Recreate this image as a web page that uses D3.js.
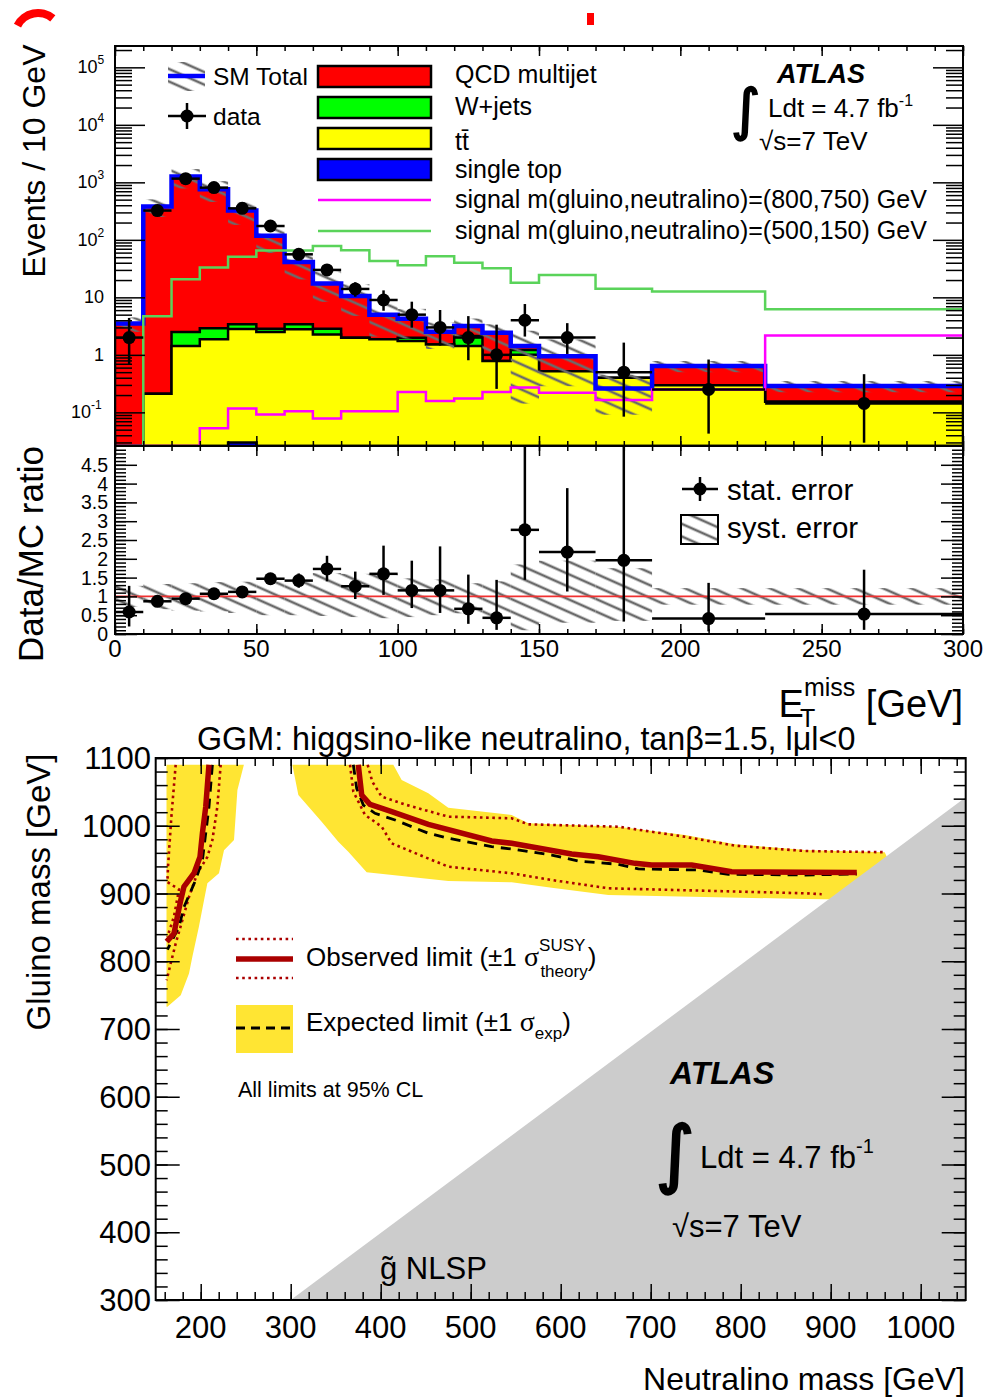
<!DOCTYPE html>
<html>
<head>
<meta charset="utf-8">
<script src="https://cdn.jsdelivr.net/npm/d3@7"></script>
<style>
body { margin: 0; background: #fff; }
svg { font-family: "Liberation Sans", Arial, Helvetica, sans-serif; }
</style>
</head>
<body>
<svg id="chart" width="1003" height="1398"></svg>
<script>
"use strict";

// ---------- top panel: E_T^miss distribution (events / 10 GeV) ----------
const binEdges  = [0,10,20,30,40,50,60,70,80,90,100,110,120,130,140,150,170,190,230,300];
const singleTop = [0,0,0,0,0.03,0,0,0,0,0,0,0,0,0,0,0,0,0,0];
const ttbar     = [0,0.21,1.42,1.86,2.78,2.49,2.78,2.27,1.99,1.86,1.74,1.52,1.42,0.78,1.0,0.52,0.40,0.295,0.153];
const wjets     = [0,0,1.08,1.03,0.61,0.36,0.61,0.58,0,0,0.25,0,0.70,0,0.21,0,0,0,0];
const qcd       = [3.5,380,1257,757,322,115,37.6,14.6,8.6,3.1,2.27,1.01,1.05,1.65,0.21,0.43,-0.14,0.345,0.134];
const sig800    = [0,0,0,0.053,0.117,0.092,0.105,0.078,0.105,0.105,0.225,0.157,0.175,0.225,0.27,0.22,0.164,0.25,2.18];
const sig500    = [0,4.7,20.6,33,51,65.6,65.6,78,66,43,36,52,40,32,18,24.4,14.1,12.6,6.2];
const dataVals  = [2,323,1160,810,353,174,56,30,14,9,5,3,2,1,4,2,0.5,0.25,0.143];
const systLo    = [0.72,0.66,0.62,0.60,0.56,0.50,0.50,0.48,0.45,0.42,0.45,0.50,0.55,0.40,0.10,0.30,0.35,0.78,0.78];
const systHi    = [1.28,1.33,1.35,1.38,1.39,1.40,1.40,1.62,1.60,1.60,1.48,1.45,1.35,1.40,1.85,1.95,1.75,1.22,1.22];

// ---------- ratio panel ----------
const ratio     = [0.585,0.87,0.94,1.07,1.12,1.47,1.42,1.73,1.27,1.60,1.16,1.16,0.67,0.43,2.77,2.18,1.96,0.41,0.53];
const ratioLo   = [0.20,0.82,0.91,1.03,1.06,1.36,1.23,1.40,0.93,1.04,0.69,0.56,0.27,0.11,1.44,1.13,0.33,0.07,0.11];
const ratioHi   = [1.28,0.92,0.97,1.11,1.18,1.58,1.61,2.08,1.66,2.35,1.95,2.33,1.58,1.44,5.3,3.88,6.4,1.36,1.71];

const logTickLabels = [[0.1,"10","-1"],[1,"1",""],[10,"10",""],[100,"10","2"],[1000,"10","3"],[1e4,"10","4"],[1e5,"10","5"]];
const ratioTickLabels = ["0","0.5","1","1.5","2","2.5","3","3.5","4","4.5"];
const xTickLabels = [0,50,100,150,200,250,300];

// ---------- bottom panel: exclusion limits [neutralino mass, gluino mass] ----------
const bandLeft    = [[162,1090],[248,1090],[240.8,1052.8],[237,979],[225.9,964],[220.3,930],[207.4,915],[203.7,890],
                     [198,851],[190.8,807],[187,782],[177.8,750],[163,733],[162,733]];
const bandRight   = [[414,1090],[423.3,1067.5],[452.9,1047.9],[475.1,1026.6],[545.5,1015.9],[564,1003.6],[664,998.6],
                     [738,986.3],[793.7,972.6],[871.4,964.2],[960,961],[985,890],[871.4,891.9],[653,897.8],[590,908.6],
                     [545.5,916.5],[475.1,918.5],[384.4,931.3],[364,961.7],[352.9,976.5],[334.4,1006],[308.5,1045.4],[301.8,1090]];
const obsLeft     = [[209.2,1090],[205.6,1028],[201.9,989],[199.2,954],[192.6,930],[181.4,910],[177.8,890],[174.1,866],[170.3,841],[162.2,829]];
const expLeft     = [[213,1090],[209.2,1028],[205.6,989],[201.9,949],[194.4,920],[181.4,880],[175.9,851],[163,817]];
const obsUpLeft   = [[172.2,1090],[167.4,1013],[163.7,940],[163,917],[175.9,906],[170.3,866],[163,836]];
const obsDownLeft = [[222.2,1090],[218.5,1028],[213,979],[207.4,954],[196.3,930],[187,895],[179.7,861],[172.2,826],[166.7,797],[162.2,772]];
const obsRight    = [[375.1,1090],[378.9,1045.4],[388.1,1031.7],[412.2,1020.8],[452.9,1002.1],[523.3,977.5],[545.5,974.1],
                     [612.2,958.3],[641.8,954.3],[682.6,944.5],[701.1,942],[745.6,942],[790,932.2],[871.4,931.3],[929,931]];
const expRight    = [[369.6,1090],[373.3,1055.3],[380.7,1030.6],[393.7,1018.4],[415.9,1008.5],[452.9,988.9],[475.1,981.5],
                     [523.3,969.1],[545.5,965.7],[590,956.8],[619.6,947.8],[664,943.1],[686.2,936.2],[752.9,934.7],
                     [786.2,928.3],[871.4,927.3],[929,928.8]];
const obsUpRight  = [[385.5,1090],[390.7,1065],[401.1,1042.9],[428.9,1030.6],[475.1,1013.4],[545.5,1011],[564,1002.1],
                     [664,998.6],[738,983.8],[793.7,970.6],[871.4,962.7],[958,961]];
const obsDownRight= [[365.9,1090],[369.6,1050.3],[382.6,1015.9],[401.1,998.6],[412.2,974.1],[434.4,961.7],[475.1,939.6],
                     [545.5,929.8],[590,919.9],[653,907.7],[871.4,900.3],[890,899]];
const nlspRegion  = [[300,300],[1050,1042],[1050,300]];
const massTicksX  = [200,300,400,500,600,700,800,900,1000];
const massTicksY  = [300,400,500,600,700,800,900,1000,1100];


const svg = d3.select('#chart');
const defs = svg.append('defs');

defs.append('pattern')
  .attr('id', 'hatch')
  .attr('patternUnits', 'userSpaceOnUse')
  .attr('width', 12).attr('height', 11.5)
  .attr('patternTransform', 'rotate(24)')
  .append('line')
  .attr('x1', 0).attr('x2', 12).attr('y1', 5.75).attr('y2', 5.75)
  .attr('stroke', '#6b6b6b').attr('stroke-width', 2.6);

function clip(id, x, y, w, h)
{
  defs.append('clipPath').attr('id', id)
    .append('rect').attr('x', x).attr('y', y).attr('width', w).attr('height', h);
  return 'url(#' + id + ')';
}

// ticks pointing into the frame, ROOT style
function ticks(axis, pos, scale, values, len)
{
  let g = svg.append('g')
    .attr('transform', axis === 'bottom' || axis === 'top' ? `translate(0,${pos})` : `translate(${pos},0)`)
    .call({bottom: d3.axisBottom, top: d3.axisTop, left: d3.axisLeft, right: d3.axisRight}[axis](scale)
      .tickValues(values).tickSize(-len).tickFormat(''));
  g.select('.domain').remove();
  g.selectAll('line').attr('stroke', '#000').attr('stroke-width', 1.5);
}

function frame(x0, y0, x1, y1)
{
  svg.append('rect')
    .attr('x', x0).attr('y', y0).attr('width', x1 - x0).attr('height', y1 - y0)
    .attr('fill', 'none').attr('stroke', '#000').attr('stroke-width', 2);
}

function txt(x, y, size, s, anchor)
{
  return svg.append('text')
    .attr('x', x).attr('y', y)
    .attr('font-size', size)
    .attr('text-anchor', anchor || 'start')
    .text(s);
}

function integral(x, y, size)
{
  return txt(x, y, size, '\u222B')
    .attr('font-family', '"DejaVu Sans", sans-serif')
    .attr('stroke', '#000').attr('stroke-width', size / 30);
}

// ================= top panel =================
const T = {l: 115, r: 963, t: 46, b: 446};
const x = d3.scaleLinear().domain([0, 300]).range([T.l, T.r]);
const yMin = 0.026;
const y = d3.scaleLog().domain([yMin, 2.35e5]).range([T.b, T.t]).clamp(true);
const yv = v => v > yMin ? y(v) : y(yMin);
const nb = qcd.length;

const cum1 = singleTop.slice();
const cum2 = cum1.map((v, i) => v + ttbar[i]);
const cum3 = cum2.map((v, i) => v + wjets[i]);
const total = cum3.map((v, i) => v + qcd[i]);

function stepArea(vals)
{
  let p = d3.path();
  p.moveTo(x(binEdges[0]), T.b);
  vals.forEach((v, i) => { p.lineTo(x(binEdges[i]), yv(v)); p.lineTo(x(binEdges[i + 1]), yv(v)); });
  p.lineTo(x(binEdges[nb]), T.b);
  p.closePath();
  return p.toString();
}

function stepLine(vals)
{
  let p = d3.path();
  vals.forEach((v, i) => {
    if (i === 0) p.moveTo(x(binEdges[0]), yv(v)); else p.lineTo(x(binEdges[i]), yv(v));
    p.lineTo(x(binEdges[i + 1]), yv(v));
  });
  return p.toString();
}

const topG = svg.append('g').attr('clip-path', clip('clipTop', T.l, T.t, T.r - T.l, T.b - T.t));

[[total, '#ff0000'], [cum3, '#00ff00'], [cum2, '#ffff00'], [cum1, '#0000ff']].forEach(([vals, col]) => {
  topG.append('path').attr('d', stepArea(vals))
    .attr('fill', col).attr('stroke', '#000').attr('stroke-width', 2.5);
});

topG.selectAll('.syst').data(total).enter().append('rect')
  .attr('x', (d, i) => x(binEdges[i]))
  .attr('width', (d, i) => x(binEdges[i + 1]) - x(binEdges[i]))
  .attr('y', (d, i) => yv(d * systHi[i]))
  .attr('height', (d, i) => yv(d * systLo[i]) - yv(d * systHi[i]))
  .attr('fill', 'url(#hatch)');

topG.append('path').attr('d', stepLine(total))
  .attr('fill', 'none').attr('stroke', '#0000ff').attr('stroke-width', 4.5);
topG.append('path').attr('d', stepLine(sig500))
  .attr('fill', 'none').attr('stroke', '#5ad35a').attr('stroke-width', 2.5);
topG.append('path').attr('d', stepLine(sig800))
  .attr('fill', 'none').attr('stroke', '#ff00ff').attr('stroke-width', 2.5);

function points(g, ys, lo, hi, yScale)
{
  ys.forEach((yc, i) => {
    let cx = x((binEdges[i] + binEdges[i + 1]) / 2);
    g.append('line').attr('x1', x(binEdges[i])).attr('x2', x(binEdges[i + 1]))
      .attr('y1', yScale(yc)).attr('y2', yScale(yc))
      .attr('stroke', '#000').attr('stroke-width', 2.5);
    g.append('line').attr('x1', cx).attr('x2', cx)
      .attr('y1', yScale(lo[i])).attr('y2', yScale(hi[i]))
      .attr('stroke', '#000').attr('stroke-width', 2.5);
    g.append('circle').attr('cx', cx).attr('cy', yScale(yc)).attr('r', 6.5).attr('fill', '#000');
  });
}

points(topG, dataVals,
  dataVals.map((d, i) => d * ratioLo[i] / ratio[i]),
  dataVals.map((d, i) => d * ratioHi[i] / ratio[i]), yv);

frame(T.l, T.t, T.r, T.b);

const xMinor = d3.range(0, 301, 10);
const xMajor = d3.range(0, 301, 50);
ticks('bottom', T.b, x, xMinor, 5);
ticks('bottom', T.b, x, xMajor, 10);
ticks('top', T.t, x, xMinor, 5);
ticks('top', T.t, x, xMajor, 10);

const logMajor = [0.1, 1, 10, 100, 1000, 1e4, 1e5];
const logMinor = [];
[0.01, 0.1, 1, 10, 100, 1000, 1e4, 1e5].forEach(d => d3.range(2, 10).forEach(k => {
  let v = d * k;
  if (v > yMin && v < 2.35e5) logMinor.push(v);
}));
ticks('left', T.l, y, logMinor, 17);
ticks('left', T.l, y, logMajor, 30);
ticks('right', T.r, y, logMinor, 17);
ticks('right', T.r, y, logMajor, 30);

logTickLabels.forEach(([v, base, sup]) => {
  svg.append('text').attr('x', sup ? 104 - sup.length * 6.5 : 104).attr('y', y(v) + 6)
    .attr('font-size', 18).attr('text-anchor', 'end').text(base);
  if (sup) {
    svg.append('text').attr('x', 104 - sup.length * 6.5).attr('y', y(v) - 3)
      .attr('font-size', 12).text(sup);
  }
});

txt(0, 0, 32, 'Events / 10 GeV', 'middle').attr('transform', 'translate(45,161) rotate(-90)');

// legend
svg.append('rect').attr('x', 168).attr('y', 62).attr('width', 37).attr('height', 29).attr('fill', 'url(#hatch)');
svg.append('line').attr('x1', 168).attr('x2', 205).attr('y1', 76).attr('y2', 76)
  .attr('stroke', '#0000ff').attr('stroke-width', 4.5);
txt(213, 85, 24.5, 'SM Total');
svg.append('line').attr('x1', 168).attr('x2', 206).attr('y1', 116).attr('y2', 116).attr('stroke', '#000').attr('stroke-width', 2.5);
svg.append('line').attr('x1', 187).attr('x2', 187).attr('y1', 103).attr('y2', 129).attr('stroke', '#000').attr('stroke-width', 2.5);
svg.append('circle').attr('cx', 187).attr('cy', 116).attr('r', 6.5).attr('fill', '#000');
txt(213, 125, 24.5, 'data');

const legBoxes = [['#ff0000', 66], ['#00ff00', 97], ['#ffff00', 128], ['#0000ff', 159]];
legBoxes.forEach(([col, yy]) => {
  svg.append('rect').attr('x', 318).attr('y', yy).attr('width', 113).attr('height', 21)
    .attr('fill', col).attr('stroke', '#000').attr('stroke-width', 2.5);
});
txt(455, 83, 25, 'QCD multijet');
txt(455, 115, 25, 'W+jets');
txt(455, 150, 25, 't\u0074\u0304');
txt(455, 178, 25, 'single top');
svg.append('line').attr('x1', 318).attr('x2', 431).attr('y1', 200).attr('y2', 200).attr('stroke', '#ff00ff').attr('stroke-width', 2.5);
svg.append('line').attr('x1', 318).attr('x2', 431).attr('y1', 231).attr('y2', 231).attr('stroke', '#5ad35a').attr('stroke-width', 2.5);
txt(455, 208, 25, 'signal m(gluino,neutralino)=(800,750) GeV');
txt(455, 239, 25, 'signal m(gluino,neutralino)=(500,150) GeV');

txt(777, 83, 27, 'ATLAS').attr('font-weight', 'bold').attr('font-style', 'italic');
integral(731, 129, 56);
let ldt1 = txt(768, 117, 26, 'Ldt = 4.7 fb');
ldt1.append('tspan').attr('font-size', 16).attr('dy', -11).text('-1');
txt(759, 150, 26, '\u221As=7 TeV');

// artefacts cut from the figure above
svg.append('path').attr('d', d3.arc().innerRadius(19).outerRadius(27).startAngle(-1.1).endAngle(0.7)())
  .attr('transform', 'translate(38,36)').attr('fill', '#ff0000');
svg.append('rect').attr('x', 587).attr('y', 13).attr('width', 7).attr('height', 12).attr('fill', '#ff0000');

// ================= ratio panel =================
const R = {l: 115, r: 963, t: 446, b: 634};
const yr = d3.scaleLinear().domain([0, 5]).range([R.b, R.t]);
const ratioG = svg.append('g').attr('clip-path', clip('clipRatio', R.l, R.t, R.r - R.l, R.b - R.t));

ratioG.selectAll('.rsyst').data(systLo).enter().append('rect')
  .attr('x', (d, i) => x(binEdges[i]))
  .attr('width', (d, i) => x(binEdges[i + 1]) - x(binEdges[i]))
  .attr('y', (d, i) => yr(systHi[i]))
  .attr('height', (d, i) => yr(d) - yr(systHi[i]))
  .attr('fill', 'url(#hatch)');
ratioG.append('line').attr('x1', R.l).attr('x2', R.r).attr('y1', yr(1)).attr('y2', yr(1))
  .attr('stroke', '#f03030').attr('stroke-width', 1.6);
points(ratioG, ratio, ratioLo, ratioHi, yr);

frame(R.l, R.t, R.r, R.b);
ticks('bottom', R.b, x, xMinor, 5);
ticks('bottom', R.b, x, xMajor, 10);
ticks('top', R.t, x, xMinor, 5);
ticks('top', R.t, x, xMajor, 10);
const rMinor = d3.range(0, 50).map(k => k / 10);
const rMajor = d3.range(0, 10).map(k => k / 2);
ticks('left', R.l, yr, rMinor, 11);
ticks('left', R.l, yr, rMajor, 22);
ticks('right', R.r, yr, rMinor, 11);
ticks('right', R.r, yr, rMajor, 22);

ratioTickLabels.forEach((s, i) => txt(108, yr(i / 2) + 7, 19.5, s, 'end'));
xTickLabels.forEach(v => txt(x(v), 657, 24, String(v), 'middle'));

txt(0, 0, 35, 'Data/MC ratio', 'middle').attr('transform', 'translate(43,554) rotate(-90)');

let et = txt(963, 717, 38, 'E', 'end');
et.append('tspan').attr('font-size', 25).attr('dy', -21).text('miss');
et.append('tspan').attr('dy', 21).text(' [GeV]');
txt(800, 727, 25, 'T');

// ratio legend
svg.append('line').attr('x1', 682).attr('x2', 718).attr('y1', 489).attr('y2', 489).attr('stroke', '#000').attr('stroke-width', 2.5);
svg.append('line').attr('x1', 700).attr('x2', 700).attr('y1', 477).attr('y2', 501).attr('stroke', '#000').attr('stroke-width', 2.5);
svg.append('circle').attr('cx', 700).attr('cy', 489).attr('r', 6.5).attr('fill', '#000');
txt(727, 500, 29.5, 'stat. error');
svg.append('rect').attr('x', 681).attr('y', 515).attr('width', 37).attr('height', 29)
  .attr('fill', 'url(#hatch)').attr('stroke', '#000').attr('stroke-width', 2);
txt(727, 538, 29.5, 'syst. error');

// ================= limit panel =================
const M = {l: 155.7, r: 965.7, t: 758, b: 1300};
const xm = d3.scaleLinear().domain([150, 1050]).range([M.l, M.r]);
const ym = d3.scaleLinear().domain([300, 1100]).range([M.b, M.t]);
const mline = d3.line().x(d => xm(d[0])).y(d => ym(d[1]));
const limG = svg.append('g').attr('clip-path', clip('clipLim', M.l, M.t, M.r - M.l, M.b - M.t));

[bandLeft, bandRight].forEach(b => limG.append('path').attr('d', mline(b) + 'Z').attr('fill', '#ffe533'));
limG.append('path').attr('d', mline(nlspRegion) + 'Z').attr('fill', '#cccccc');

[obsUpLeft, obsDownLeft, obsUpRight, obsDownRight].forEach(c => limG.append('path').attr('d', mline(c))
  .attr('fill', 'none').attr('stroke', '#aa0000').attr('stroke-width', 2.6).attr('stroke-dasharray', '2.6,3.6'));
[expLeft, expRight].forEach(c => limG.append('path').attr('d', mline(c))
  .attr('fill', 'none').attr('stroke', '#000').attr('stroke-width', 2.8).attr('stroke-dasharray', '10,7'));
[obsLeft, obsRight].forEach(c => limG.append('path').attr('d', mline(c))
  .attr('fill', 'none').attr('stroke', '#aa0000').attr('stroke-width', 5.5));

frame(M.l, M.t, M.r, M.b);
const mMinorX = d3.range(160, 1050, 20);
const mMinorY = d3.range(300, 1101, 20);
ticks('bottom', M.b, xm, mMinorX, 8);
ticks('bottom', M.b, xm, massTicksX, 16);
ticks('top', M.t, xm, mMinorX, 8);
ticks('top', M.t, xm, massTicksX, 16);
ticks('left', M.l, ym, mMinorY, 12);
ticks('left', M.l, ym, massTicksY, 24);
ticks('right', M.r, ym, mMinorY, 12);
ticks('right', M.r, ym, massTicksY, 24);

massTicksY.forEach(v => txt(151, ym(v) + 11, 31, String(v), 'end'));
massTicksX.forEach(v => txt(xm(v), 1338, 31, String(v), 'middle'));

txt(965, 1390, 32, 'Neutralino mass [GeV]', 'end');
txt(0, 0, 33, 'Gluino mass [GeV]', 'middle').attr('transform', 'translate(50,892) rotate(-90)');
txt(197, 750, 32.3, 'GGM: higgsino-like neutralino, tan\u03B2=1.5, l\u03BCl<0');

// legend
[939, 978].forEach(yy => svg.append('line').attr('x1', 236).attr('x2', 293).attr('y1', yy).attr('y2', yy)
  .attr('stroke', '#aa0000').attr('stroke-width', 2.6).attr('stroke-dasharray', '2.6,3.6'));
svg.append('line').attr('x1', 236).attr('x2', 293).attr('y1', 959).attr('y2', 959)
  .attr('stroke', '#aa0000').attr('stroke-width', 5.5);
svg.append('rect').attr('x', 236).attr('y', 1005).attr('width', 57).attr('height', 48).attr('fill', '#ffe533');
svg.append('line').attr('x1', 236).attr('x2', 293).attr('y1', 1028).attr('y2', 1028)
  .attr('stroke', '#000').attr('stroke-width', 2.8).attr('stroke-dasharray', '9,6');

const serif = '"Liberation Serif", "DejaVu Serif", serif';
let obsT = txt(306, 966, 26, 'Observed limit (\u00B11 ');
obsT.append('tspan').attr('font-family', serif).attr('font-size', 28).text('\u03C3');
obsT.append('tspan').attr('font-size', 17).attr('dy', -15).text('SUSY');
obsT.append('tspan').attr('font-size', 17).attr('dx', -45).attr('dy', 26).text('theory');
obsT.append('tspan').attr('dy', -11).text(')');
let expT = txt(306, 1031, 26, 'Expected limit (\u00B11 ');
expT.append('tspan').attr('font-family', serif).attr('font-size', 28).text('\u03C3');
expT.append('tspan').attr('font-size', 17).attr('dy', 8).text('exp');
expT.append('tspan').attr('dy', -8).text(')');
txt(238, 1097, 21.5, 'All limits at 95% CL');

txt(670, 1084, 32, 'ATLAS').attr('font-weight', 'bold').attr('font-style', 'italic');
integral(656, 1179, 74);
let ldt2 = txt(700, 1168, 31, 'Ldt = 4.7 fb');
ldt2.append('tspan').attr('font-size', 20).attr('dy', -15).text('-1');
txt(672, 1237, 31, '\u221As=7 TeV');
txt(380, 1279, 31, 'g\u0303 NLSP');
</script>
</body>
</html>
